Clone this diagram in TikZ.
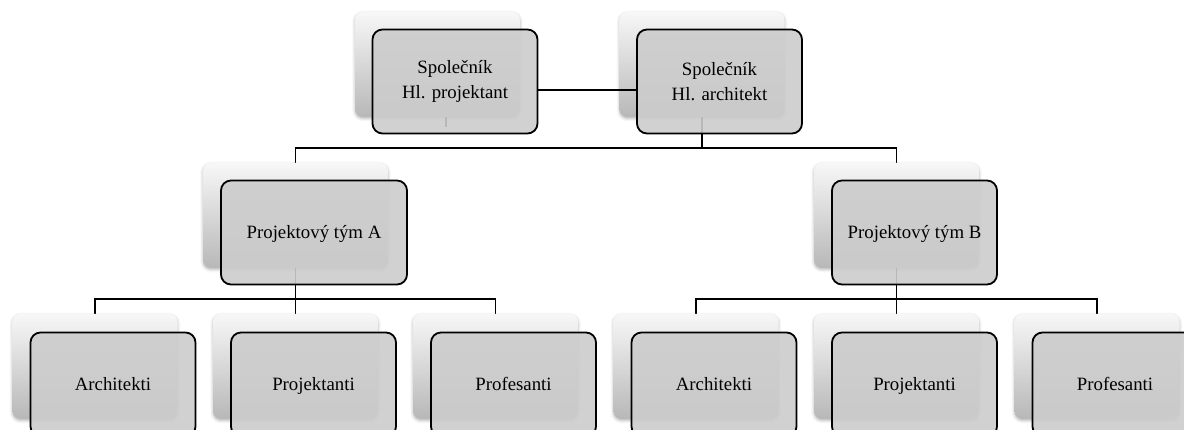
\documentclass[tikz,border=0pt]{standalone}
\usepackage{fontspec}
\setmainfont{Liberation Serif}
\usetikzlibrary{shadows.blur}
\pgfdeclarelayer{background}
\pgfsetlayers{background,main}

\tikzset{
  backcard/.style={rounded corners=8pt, minimum width=165pt, minimum height=105pt,
    inner sep=0pt, top color=white!97!black, middle color=white!92!black,
    bottom color=white!72!black,
    blur shadow={shadow xshift=0pt, shadow yshift=-1.5pt,
      shadow blur radius=3pt, shadow opacity=30}},
  card/.style={draw=black, line width=1.8pt, rounded corners=10pt,
    fill=black!20, fill opacity=0.9, text opacity=1,
    minimum width=165pt, minimum height=104pt, inner sep=2pt, align=center,
    font=\fontsize{18.8}{25}\selectfont},
  oneline/.style={text height=12.5pt, text depth=0pt},
  wide/.style={minimum width=186pt},
  conn/.style={draw=black, line width=1.8pt},
}

\begin{document}
\begin{tikzpicture}[x=1pt,y=-1pt]
  \useasboundingbox (0,0) rectangle (1184,430);
  \clip (0,0) rectangle (1184,430);

  % top level: the two partners
  \node[backcard] (p1s) at (437.5,64.5) {};
  \node[card] (p1) at ([shift={(17.5,17)}]p1s.center) {Společník\\Hl. projektant};
  \node[backcard] (p2s) at (702,64.5) {};
  \node[card] (p2) at ([shift={(17.5,17)}]p2s.center) {Společník\\Hl. architekt};

  % project teams
  \node[backcard, minimum width=185pt] (tAs) at (295.5,215.5) {};
  \node[card, oneline, wide] (tA) at ([shift={(18.5,17)}]tAs.center) {Projektový tým A};
  \node[backcard] (tBs) at (896.5,215.5) {};
  \node[card, oneline] (tB) at ([shift={(18,17)}]tBs.center) {Projektový tým B};

  % team members
  \node[backcard] (a1s) at (95,366.5) {};
  \node[card, oneline] (a1) at ([shift={(18,18)}]a1s.center) {Architekti};
  \node[backcard] (a2s) at (295.5,366.5) {};
  \node[card, oneline] (a2) at ([shift={(18,18)}]a2s.center) {Projektanti};
  \node[backcard] (a3s) at (495.5,366.5) {};
  \node[card, oneline] (a3) at ([shift={(18,18)}]a3s.center) {Profesanti};
  \node[backcard] (b1s) at (696,366.5) {};
  \node[card, oneline] (b1) at ([shift={(18,18)}]b1s.center) {Architekti};
  \node[backcard] (b2s) at (896.5,366.5) {};
  \node[card, oneline] (b2) at ([shift={(18,18)}]b2s.center) {Projektanti};
  \node[backcard] (b3s) at (1097,366.5) {};
  \node[card, oneline] (b3) at ([shift={(18,18)}]b3s.center) {Profesanti};

  % link between the partners
  \draw[conn] (p1.east |- 0,90) -- (p2.west |- 0,90);

  % tree connectors, behind the cards
  \coordinate (bus1) at (0,148);
  \coordinate (bus2) at (0,299);
  \coordinate (stub) at (446,127);
  \begin{pgfonlayer}{background}
    \draw[conn] (p2s.center) -- (p2s.center |- bus1);
    \draw[conn] (tAs.center) |- (bus1 -| tBs.center) -- (tBs.center);
    \draw[conn] (tAs.center) -- (a2s.center);
    \draw[conn] (a1s.center) |- (bus2 -| a3s.center) -- (a3s.center);
    \draw[conn] (tBs.center) -- (b2s.center);
    \draw[conn] (b1s.center) |- (bus2 -| b3s.center) -- (b3s.center);
    \draw[conn, line width=1.2pt] (p1s.center -| stub) -- (stub);
  \end{pgfonlayer}
\end{tikzpicture}
\end{document}
